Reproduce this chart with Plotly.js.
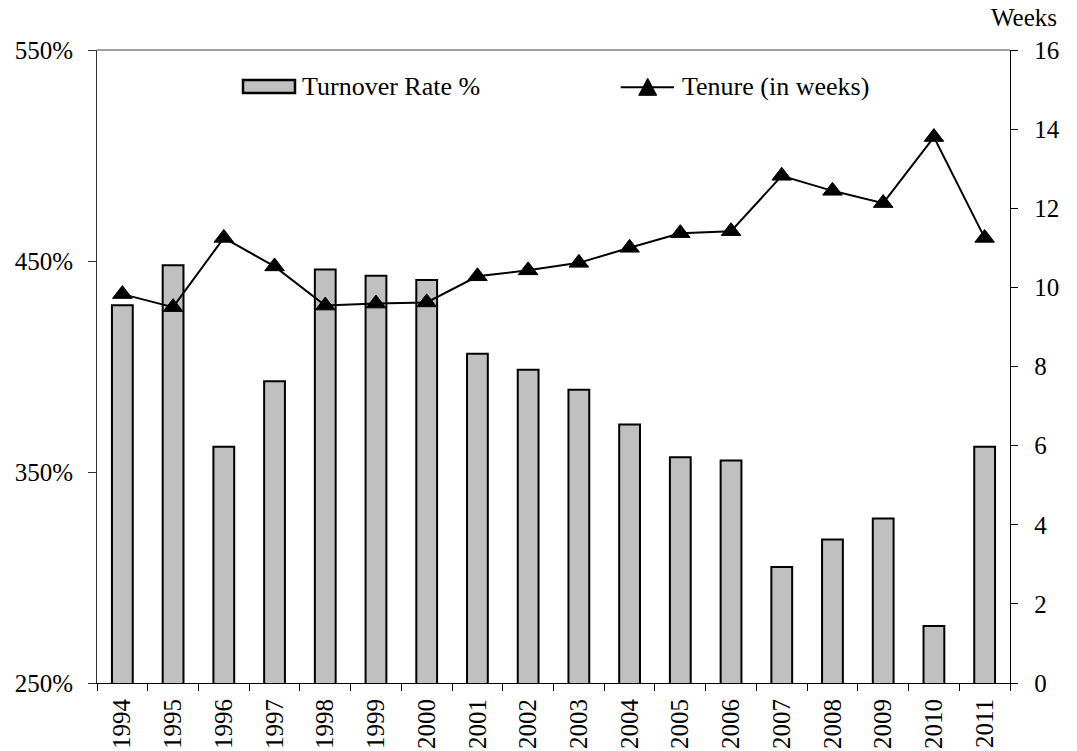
<!DOCTYPE html>
<html>
<head>
<meta charset="utf-8">
<script src="https://cdn.plot.ly/plotly-3.0.1.min.js"></script>
<style>html,body{margin:0;padding:0;background:#fff;}#chart{width:1077px;height:751px;}</style>
</head>
<body>
<div id="chart"></div>
<script>
const years = ['1994','1995','1996','1997','1998','1999','2000','2001','2002','2003','2004','2005','2006','2007','2008','2009','2010','2011'];
const turnoverRate = [429, 448, 362, 393, 446, 443, 441, 406, 398.5, 389, 372.5, 357, 355.5, 305, 318, 328, 277, 362];
const tenureWeeks = [9.83, 9.50, 11.25, 10.53, 9.54, 9.59, 9.62, 10.28, 10.43, 10.62, 11.0, 11.37, 11.42, 12.82, 12.44, 12.13, 13.80, 11.25];
const seriesNames = ['Turnover Rate %', 'Tenure (in weeks)'];
const rightAxisTitle = 'Weeks';

const FONT = '"Liberation Serif", "Times New Roman", serif';
const W = 1077, H = 751;
const L = 97, R = 1010, T = 50, B = 683;
const px = x => (x - L) / (R - L);
const py = y => (B - y) / (B - T);

const traces = [
  {
    type: 'bar', x: years, y: turnoverRate, name: seriesNames[0],
    width: 0.41,
    marker: {color: '#c0c0c0', line: {color: '#000', width: 2}},
    yaxis: 'y', showlegend: false, hoverinfo: 'x+y'
  },
  {
    type: 'scatter', mode: 'lines+markers', x: years, y: tenureWeeks, name: seriesNames[1],
    yaxis: 'y2',
    line: {color: '#000', width: 2},
    marker: {symbol: 'triangle-up', size: 17, color: '#000', line: {color: '#000', width: 1}},
    showlegend: false, cliponaxis: false
  }
];

const tc = [647.7, 87.3];
const triPath = `M ${px(tc[0]-9)} ${py(tc[1]+8)} L ${px(tc[0]+9)} ${py(tc[1]+8)} L ${px(tc[0])} ${py(tc[1]-9)} Z`;

const layout = {
  width: W, height: H,
  margin: {l: L, r: W - R, t: T, b: H - B, pad: 0},
  paper_bgcolor: '#fff', plot_bgcolor: '#fff',
  font: {family: FONT, size: 25, color: '#000'},
  showlegend: false,
  xaxis: {
    type: 'category', showgrid: false, zeroline: false,
    showline: true, linecolor: '#000', linewidth: 1,
    ticks: 'outside', tickson: 'boundaries', ticklen: 7, tickcolor: '#000', tickwidth: 1,
    tickangle: -90, tickfont: {family: FONT, size: 25}, ticklabelstandoff: 5,
    range: [-0.5, 17.5]
  },
  yaxis: {
    range: [250, 550], dtick: 100, tick0: 250, ticksuffix: '%',
    showgrid: false, zeroline: false,
    showline: true, linecolor: '#333', linewidth: 1,
    ticks: 'outside', ticklen: 8, tickcolor: '#333', tickwidth: 1,
    tickfont: {family: FONT, size: 25}, ticklabelstandoff: 10
  },
  yaxis2: {
    range: [0, 16], dtick: 2, overlaying: 'y', side: 'right',
    showgrid: false, zeroline: false,
    showline: true, linecolor: '#000', linewidth: 1.3,
    ticks: 'outside', ticklen: 7, tickcolor: '#000', tickwidth: 1,
    ticklabelposition: 'outside', ticklabelstandoff: 11,
    tickfont: {family: FONT, size: 25}
  },
  shapes: [
    {type: 'line', xref: 'paper', yref: 'paper', x0: 0, x1: 1, y0: 1, y1: 1, line: {color: '#808080', width: 1.5}},
    {type: 'rect', xref: 'paper', yref: 'paper', x0: px(243), x1: px(295), y0: py(93), y1: py(80),
      fillcolor: '#c0c0c0', line: {color: '#000', width: 2.5}},
    {type: 'line', xref: 'paper', yref: 'paper', x0: px(620.7), x1: px(674), y0: py(87.3), y1: py(87.3), line: {color: '#000', width: 2}},
    {type: 'path', xref: 'paper', yref: 'paper', path: triPath, fillcolor: '#000', line: {color: '#000', width: 1}}
  ],
  annotations: [
    {xref: 'paper', yref: 'paper', x: px(300), y: py(87), xanchor: 'left', yanchor: 'middle',
      text: seriesNames[0], showarrow: false, font: {family: FONT, size: 26}},
    {xref: 'paper', yref: 'paper', x: px(680), y: py(87), xanchor: 'left', yanchor: 'middle',
      text: seriesNames[1], showarrow: false, font: {family: FONT, size: 26}},
    {xref: 'paper', yref: 'paper', x: px(1059), y: py(17), xanchor: 'right', yanchor: 'middle',
      text: rightAxisTitle, showarrow: false, font: {family: FONT, size: 25}}
  ]
};

Plotly.newPlot('chart', traces, layout, {staticPlot: true, displayModeBar: false});
</script>
</body>
</html>
